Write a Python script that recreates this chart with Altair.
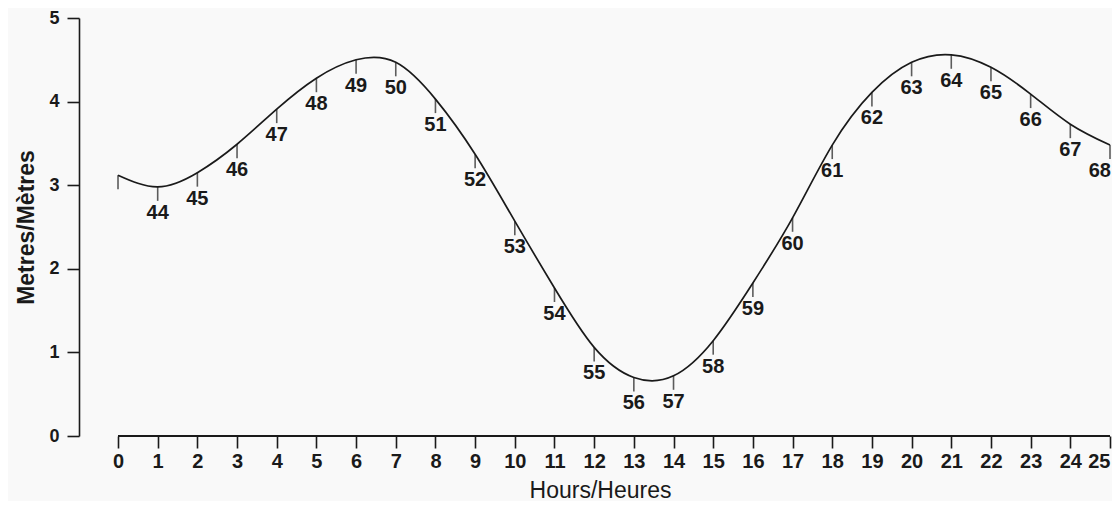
import altair as alt
import pandas as pd

# Tide curve (hours, metres) and point labels
hours = list(range(26))
heights = [3.12, 2.98, 3.15, 3.49, 3.91, 4.28, 4.50, 4.47, 4.03, 3.37, 2.57,
           1.77, 1.06, 0.70, 0.72, 1.14, 1.83, 2.61, 3.48, 4.11, 4.47, 4.56,
           4.41, 4.09, 3.73, 3.48]
point_labels = [""] + [str(n) for n in range(44, 69)]
hour_ticks = list(range(0, 26))
metre_ticks = [0, 1, 2, 3, 4, 5]

df = pd.DataFrame({"hour": hours, "height": heights, "label": point_labels})
axis_df = pd.DataFrame({"start": [hour_ticks[0]], "end": [hour_ticks[-1]], "level": [metre_ticks[0]]})

NARROW = "Liberation Sans Narrow, Arial Narrow, sans-serif"
INK = "#1a1a1a"
last_label = point_labels[-1]

xscale = alt.Scale(domain=[-0.983, 25], nice=False, zero=False)
yscale = alt.Scale(domain=[0, 5], nice=False)

xaxis = alt.Axis(values=hour_ticks, format="d", domain=False, grid=False, tickSize=12,
                 tickColor=INK, tickWidth=1.6, labelFont=NARROW, labelFontSize=20,
                 labelFontWeight="bold", labelColor=INK, labelPadding=3,
                 title="Hours/Heures", titleFont="Liberation Sans", titleFontSize=23,
                 titleFontWeight="normal", titleColor=INK, titleX=521, titleY=54,
                 titleBaseline="middle", titleAnchor="middle")
yaxis = alt.Axis(values=metre_ticks, format="d", domain=True, domainColor=INK, domainWidth=1.6,
                 grid=False, tickSize=12, tickColor=INK, tickWidth=1.6, labelFont=NARROW,
                 labelFontSize=18, labelFontWeight="bold", labelColor=INK, labelPadding=8,
                 title="Metres/Mètres", titleFont="Liberation Sans", titleFontSize=23,
                 titleFontWeight="bold", titleColor=INK, titleX=-53, titleY=209,
                 titleBaseline="middle", titleAngle=-90, titleAnchor="middle")

base = alt.Chart(df)
enc = dict(x=alt.X("hour:Q", scale=xscale), y=alt.Y("height:Q", scale=yscale))

curve = base.mark_line(color=INK, strokeWidth=1.7, interpolate="natural").encode(
    x=alt.X("hour:Q", scale=xscale, axis=xaxis),
    y=alt.Y("height:Q", scale=yscale, axis=yaxis),
)

ticks = base.mark_tick(orient="vertical", size=14, thickness=1.6, color=INK, yOffset=7).encode(**enc)

labels = base.transform_filter(f"datum.label != '{last_label}'").mark_text(
    font=NARROW, fontSize=20, fontWeight="bold", color=INK, baseline="top", dy=16
).encode(text="label:N", **enc)

end_label = base.transform_filter(f"datum.label == '{last_label}'").mark_text(
    font=NARROW, fontSize=20, fontWeight="bold", color=INK, baseline="top", dy=16,
    align="right", dx=1
).encode(text="label:N", **enc)

xline = alt.Chart(axis_df).mark_rule(color=INK, strokeWidth=1.8).encode(
    x=alt.X("start:Q", scale=xscale),
    x2="end:Q",
    y=alt.Y("level:Q", scale=yscale),
)

chart = alt.layer(xline, curve, ticks, labels, end_label).properties(
    width=1031,
    height=418,
    background="#f9f9f9",
    padding={"left": 71, "top": 10, "right": 2, "bottom": 65},
    autosize=alt.AutoSizeParams(type="none"),
).configure_view(stroke=None)

chart.save("out.html", embed_options={"renderer": "svg", "actions": False})
